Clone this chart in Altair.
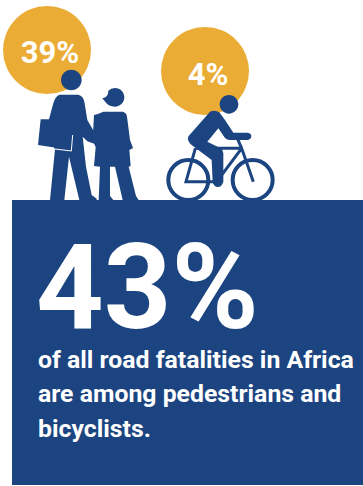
import altair as alt

NAVY = "#1B4480"
GOLD = "#EBAC35"
WHITE = "#FFFFFF"

SHARE_LABELS = ["39%", "4%"]
HEADLINE = "43%"
BODY_LINES = [
    "of all road fatalities in Africa",
    "are among pedestrians and",
    "bicyclists.",
]

# Silhouettes are authored on a 3x grid; size 4/9 renders them at 1/3 scale.
GRID_SIZE = 4 / 9
FONT = "Roboto"

MAN_HEAD = "M214 209 A31 31 0 1 1 213.9 209 Z"
MAN_BODY = (
    "M178 284 L235 284 Q250 288 253 305 L262 360 L285 400 L285 432 L262 424 L248 410 "
    "L258 500 L275 585 L290 596 L290 600 L238 600 L207 470 L193 600 L150 600 L165 448 "
    "L150 420 L147 358 L160 310 Q165 290 178 284 Z"
)
BAG = "M122 358 L150 358 L218 405 L213 450 L114 435 Z"
BAG_GAP = "M165 447 L214 453 L218 405"
WOMAN_HEAD = (
    "M345 264 A28 28 0 0 1 345 320 Q325 318 318 308 L307 295 Q325 292 325 272 "
    "Q333 264 345 264 Z"
)
WOMAN_BODY = (
    "M282 345 Q295 342 310 335 L368 335 Q380 338 381 350 L390 420 L399 444 L388 450 "
    "L392 498 L386 500 L408 588 L416 600 L368 600 L345 500 L330 500 L330 588 L340 600 "
    "L296 600 L300 500 L282 498 L287 442 L278 420 Z"
)

RIDER_HEAD = "M237 255 A28 28 0 1 1 236.9 255 Z"
RIDER_BODY = (
    "M180 305 Q195 298 208 307 L225 330 L250 368 L293 368 Q304 370 304 379 Q303 389 293 390 "
    "L240 390 Q230 390 225 384 L205 355 L172 395 L212 415 Q220 420 220 430 L220 515 "
    "Q215 532 202 531 Q190 528 188 515 L185 450 L125 405 Q108 390 116 378 Z"
)
FRAME = (
    "M136 415 L108 515 L200 515 L275 415 L310 515 "
    "M136 415 L275 415 M262 385 L275 415"
)
WHEELS = (
    "M115 450 A60 60 0 1 1 114.9 450 Z "
    "M308 450 A60 60 0 1 1 307.9 450 Z"
)


def one_row(label=""):
    return alt.Data(values=[{"label": label}])


def solid(path, ox=0, oy=0):
    return (
        alt.Chart(one_row())
        .mark_point(shape=path, size=GRID_SIZE, filled=True, color=NAVY, opacity=1, strokeWidth=0)
        .encode(x=alt.value(ox), y=alt.value(oy))
    )


def outline(path, color, width, ox=0, oy=0):
    return (
        alt.Chart(one_row())
        .mark_point(shape=path, size=GRID_SIZE, filled=False, color=color, opacity=1, strokeWidth=width)
        .encode(x=alt.value(ox), y=alt.value(oy))
    )


def disc(cx, cy, radius, color):
    return (
        alt.Chart(one_row())
        .mark_circle(size=4 * radius ** 2, color=color, opacity=1)
        .encode(x=alt.value(cx), y=alt.value(cy))
    )


def caption(label, x, y, size, **style):
    return (
        alt.Chart(one_row(label))
        .mark_text(
            font=FONT, fontWeight="bold", fontSize=size, color=WHITE,
            baseline="alphabetic", **style,
        )
        .encode(x=alt.value(x), y=alt.value(y), text="label:N")
    )


panel = (
    alt.Chart(one_row())
    .mark_rect(color=NAVY)
    .encode(x=alt.value(12), x2=alt.value(363), y=alt.value(200), y2=alt.value(485))
)

chart = alt.layer(
    panel,
    disc(47, 50, 44, GOLD),
    disc(205, 71, 44, GOLD),
    caption(SHARE_LABELS[0], 50, 63, 31, align="center"),
    caption(SHARE_LABELS[1], 208, 85, 31, align="center"),
    solid(BAG),
    solid(MAN_BODY),
    solid(MAN_HEAD),
    outline(BAG_GAP, WHITE, 1),
    solid(WOMAN_BODY),
    solid(WOMAN_HEAD),
    solid(RIDER_BODY, 150, 10),
    solid(RIDER_HEAD, 150, 10),
    outline(FRAME, NAVY, 3, 150, 10),
    outline(WHEELS, NAVY, 4, 150, 10),
    caption(HEADLINE, 36, 328, 118, align="left"),
    caption(BODY_LINES[0], 38, 368, 24.8, align="left"),
    caption(BODY_LINES[1], 38, 402, 24.8, align="left"),
    caption(BODY_LINES[2], 38, 437, 24.8, align="left"),
).properties(
    width=363,
    height=486,
    padding=0,
    autosize=alt.AutoSizeParams(type="none"),
    background=WHITE,
).configure_view(stroke=None)

chart.save("out.html", embed_options={"renderer": "svg", "actions": False})
